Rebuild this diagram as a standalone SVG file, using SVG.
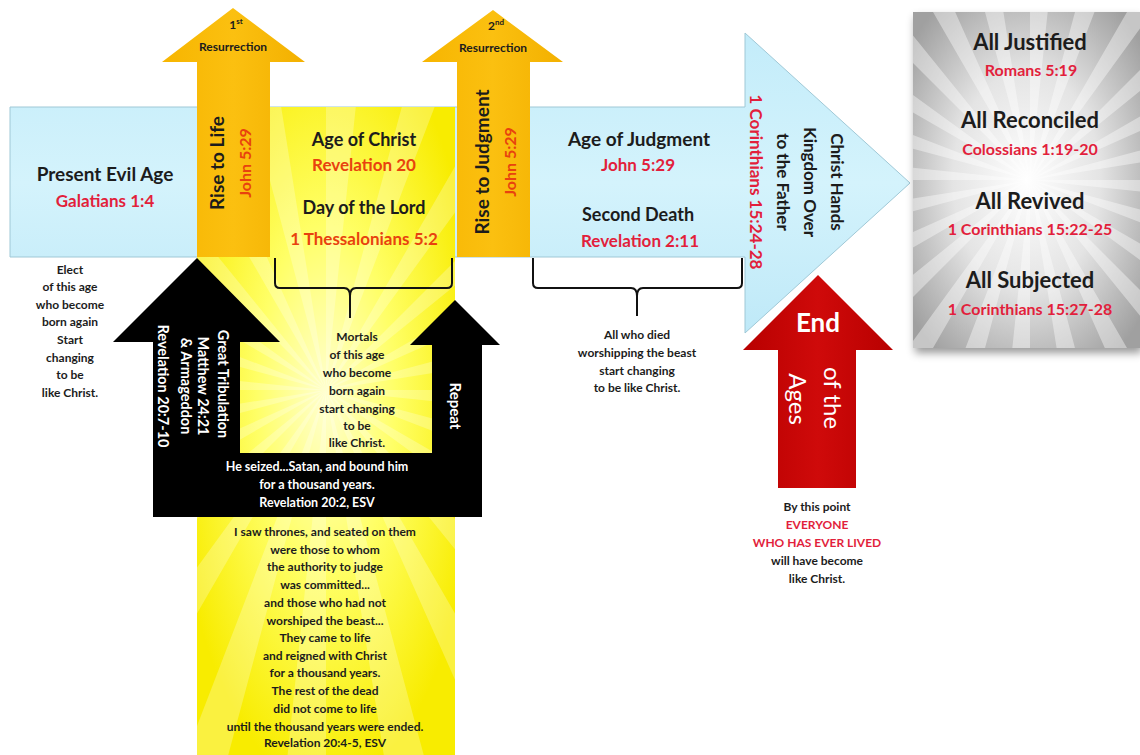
<svg xmlns="http://www.w3.org/2000/svg" xmlns:xlink="http://www.w3.org/1999/xlink" width="1140" height="755" viewBox="0 0 1140 755">
<style>
text{font-family:Lato,"Liberation Sans",sans-serif;font-weight:700;text-anchor:middle}
.dk{fill:#1c1c1c}
.rd{fill:#e21f3c}
.or{fill:#e8420e}
.wh{fill:#ffffff}
.sm{font-size:12px}
.brace{fill:none;stroke:#111;stroke-width:2}
</style>
<defs>
<linearGradient id="blueG" x1="0" y1="0" x2="0" y2="1">
<stop offset="0" stop-color="#c3ecfa"/>
<stop offset="0.5" stop-color="#d4f3fc"/>
<stop offset="1" stop-color="#bfe9f8"/>
</linearGradient>
<radialGradient id="yelG" cx="0.5" cy="0.45" r="0.6">
<stop offset="0" stop-color="#ffffd0"/>
<stop offset="0.45" stop-color="#ffff66"/>
<stop offset="1" stop-color="#f8ec00"/>
</radialGradient>
<radialGradient id="grayG" cx="0.5" cy="0.5" r="0.65">
<stop offset="0" stop-color="#ffffff"/>
<stop offset="0.5" stop-color="#e4e4e4"/>
<stop offset="1" stop-color="#a0a0a0"/>
</radialGradient>
<linearGradient id="orG" x1="0" y1="0" x2="1" y2="0">
<stop offset="0" stop-color="#f7b500"/>
<stop offset="0.5" stop-color="#fbc010"/>
<stop offset="1" stop-color="#f3b000"/>
</linearGradient>
<linearGradient id="redG" x1="0" y1="0" x2="1" y2="0">
<stop offset="0" stop-color="#b80000"/>
<stop offset="0.5" stop-color="#cf0a0a"/>
<stop offset="1" stop-color="#b80000"/>
</linearGradient>
<path id="rays" d="M0,0L300,0L298.4,31.4Z M0,0L289.8,77.6L280.1,107.5Z M0,0L259.8,150L242.7,176.3Z M0,0L212.1,212.1L188.8,233.1Z M0,0L150,259.8L122,274Z M0,0L77.6,289.8L46.9,296.3Z M0,0L0,300L-31.4,298.4Z M0,0L-77.6,289.8L-107.5,280.1Z M0,0L-150,259.8L-176.3,242.7Z M0,0L-212.1,212.1L-233.1,188.8Z M0,0L-259.8,150L-274,122Z M0,0L-289.8,77.6L-296.3,46.9Z M0,0L-300,0L-298.4,-31.4Z M0,0L-289.8,-77.6L-280.1,-107.5Z M0,0L-259.8,-150L-242.7,-176.3Z M0,0L-212.1,-212.1L-188.8,-233.1Z M0,0L-150,-259.8L-122,-274Z M0,0L-77.6,-289.8L-46.9,-296.3Z M0,0L0,-300L31.4,-298.4Z M0,0L77.6,-289.8L107.5,-280.1Z M0,0L150,-259.8L176.3,-242.7Z M0,0L212.1,-212.1L233.1,-188.8Z M0,0L259.8,-150L274,-122Z M0,0L289.8,-77.6L296.3,-46.9Z"/>
<clipPath id="clipGray"><rect x="913" y="12" width="227" height="336"/></clipPath>
<clipPath id="clipYel"><rect x="197" y="107" width="258" height="648"/></clipPath>
<filter id="shadow" x="-10%" y="-10%" width="130%" height="130%">
<feDropShadow dx="2" dy="5" stdDeviation="4" flood-color="#000" flood-opacity="0.4"/>
</filter>
</defs>
<rect width="1140" height="755" fill="#ffffff"/>

<g id="timeline-band">
<polygon points="10,107 745,107 745,33 910,183 745,333 745,257 10,257" fill="url(#blueG)" stroke="#9fc8d6" stroke-width="1"/>
</g>

<g id="age-of-christ-field">
<rect x="197" y="107" width="258" height="648" fill="url(#yelG)"/>
<g clip-path="url(#clipYel)">
<use xlink:href="#rays" transform="translate(326,390) scale(1.4)" fill="#ffffff" opacity="0.25"/>
</g>
</g>

<g id="black-arrows">
<polygon points="197,258 280,342 240,342 240,453 432,453 432,345 410,345 455,300 500,345 482,345 482,517 153,517 153,342 113,342" fill="#000000"/>
</g>

<g id="first-resurrection">
<polygon points="233,8 305,62 270,62 270,257 197,257 197,62 162,62" fill="url(#orG)"/>
</g>
<g id="second-resurrection">
<polygon points="493,10 563,62 530,62 530,257 457,257 457,62 422,62" fill="url(#orG)"/>
</g>

<g id="end-of-ages">
<polygon points="818,275 893,350 856,350 856,488 778,488 778,350 743,350" fill="url(#redG)"/>
</g>

<g id="final-panel">
<rect x="913" y="12" width="227" height="336" fill="url(#grayG)" filter="url(#shadow)"/>
<g clip-path="url(#clipGray)">
<use xlink:href="#rays" transform="translate(1030,180)" fill="#ffffff" opacity="0.4"/>
</g>
</g>

<g id="connectors">
<path class="brace" d="M275,258 V283 Q275,288 280,288 H344 Q350,288 350,296 V318 M452,258 V283 Q452,288 447,288 H356 Q350,288 350,296"/>
<path class="brace" d="M533,258 V283 Q533,288 538,288 H631 Q637,288 637,296 V316 M742,258 V283 Q742,288 737,288 H643 Q637,288 637,296"/>
</g>

<g id="present-evil-age">
<text x="105" y="181" class="dk" font-size="19">Present Evil Age</text>
<text x="105" y="207" class="rd" font-size="17">Galatians 1:4</text>
</g>

<g id="first-resurrection-text">
<text x="236" y="29" class="dk" font-size="12">1<tspan font-size="8" dy="-5">st</tspan></text>
<text x="233" y="51" class="dk" font-size="12">Resurrection</text>
<text transform="translate(224,163) rotate(-90)" class="dk" font-size="19">Rise to Life</text>
<text transform="translate(251,163) rotate(-90)" class="or" font-size="16">John 5:29</text>
</g>

<g id="age-of-christ">
<text x="364" y="146" class="dk" font-size="18">Age of Christ</text>
<text x="364" y="171" class="or" font-size="17">Revelation 20</text>
<text x="364" y="214" class="dk" font-size="18">Day of the Lord</text>
<text x="364" y="245" class="or" font-size="17">1 Thessalonians 5:2</text>
</g>

<g id="second-resurrection-text">
<text x="496" y="30" class="dk" font-size="12">2<tspan font-size="8" dy="-5">nd</tspan></text>
<text x="493" y="52" class="dk" font-size="12">Resurrection</text>
<text transform="translate(489,162) rotate(-90)" class="dk" font-size="19">Rise to Judgment</text>
<text transform="translate(516,162) rotate(-90)" class="or" font-size="16">John 5:29</text>
</g>

<g id="age-of-judgment">
<text x="639" y="146" class="dk" font-size="19">Age of Judgment</text>
<text x="638" y="171" class="rd" font-size="17">John 5:29</text>
<text x="638" y="221" class="dk" font-size="18">Second Death</text>
<text x="640" y="247" class="rd" font-size="17">Revelation 2:11</text>
</g>

<g id="kingdom-handover">
<text transform="translate(831,182) rotate(90)" class="dk" font-size="17">Christ Hands</text>
<text transform="translate(804,182) rotate(90)" class="dk" font-size="17">Kingdom Over</text>
<text transform="translate(777,182) rotate(90)" class="dk" font-size="17">to the Father</text>
<text transform="translate(750,182) rotate(90)" class="rd" font-size="17">1 Corinthians 15:24-28</text>
</g>

<g id="elect-note">
<text x="70" y="274" class="dk sm">Elect</text>
<text x="70" y="291" class="dk sm">of this age</text>
<text x="70" y="309" class="dk sm">who become</text>
<text x="70" y="326" class="dk sm">born again</text>
<text x="70" y="344" class="dk sm">Start</text>
<text x="70" y="362" class="dk sm">changing</text>
<text x="70" y="379" class="dk sm">to be</text>
<text x="70" y="397" class="dk sm">like Christ.</text>
</g>

<g id="tribulation-text">
<text transform="translate(218,384) rotate(90)" class="wh" font-size="14.5">Great Tribulation</text>
<text transform="translate(198,386) rotate(90)" class="wh" font-size="14.5">Matthew 24:21</text>
<text transform="translate(181,386) rotate(90)" class="wh" font-size="14.5">&amp; Armageddon</text>
<text transform="translate(158,386) rotate(90)" class="wh" font-size="14.5">Revelation 20:7-10</text>
<text transform="translate(450,406) rotate(90)" class="wh" font-size="15">Repeat</text>
</g>

<g id="mortals-note">
<text x="357" y="341" class="dk sm">Mortals</text>
<text x="357" y="359" class="dk sm">of this age</text>
<text x="357" y="377" class="dk sm">who become</text>
<text x="357" y="395" class="dk sm">born again</text>
<text x="357" y="413" class="dk sm">start changing</text>
<text x="357" y="430" class="dk sm">to be</text>
<text x="357" y="447" class="dk sm">like Christ.</text>
</g>

<g id="satan-bound">
<text x="317" y="471" class="wh" font-size="12.5">He seized...Satan, and bound him</text>
<text x="317" y="489" class="wh" font-size="12.5">for a thousand years.</text>
<text x="317" y="507" class="wh" font-size="12.5">Revelation 20:2, ESV</text>
</g>

<g id="thrones-quote">
<text x="325" y="536" class="dk sm">I saw thrones, and seated on them</text>
<text x="325" y="554" class="dk sm">were those to whom</text>
<text x="325" y="571" class="dk sm">the authority to judge</text>
<text x="325" y="589" class="dk sm">was committed...</text>
<text x="325" y="607" class="dk sm">and those who had not</text>
<text x="325" y="625" class="dk sm">worshiped the beast...</text>
<text x="325" y="642" class="dk sm">They came to life</text>
<text x="325" y="660" class="dk sm">and reigned with Christ</text>
<text x="325" y="677" class="dk sm">for a thousand years.</text>
<text x="325" y="695" class="dk sm">The rest of the dead</text>
<text x="325" y="713" class="dk sm">did not come to life</text>
<text x="325" y="731" class="dk sm">until the thousand years were ended.</text>
<text x="325" y="747" class="dk sm">Revelation 20:4-5, ESV</text>
</g>

<g id="beast-note">
<text x="637" y="339" class="dk sm">All who died</text>
<text x="637" y="357" class="dk sm">worshipping the beast</text>
<text x="637" y="375" class="dk sm">start changing</text>
<text x="637" y="392" class="dk sm">to be like Christ.</text>
</g>

<g id="end-text">
<text x="818" y="332" class="wh" font-size="26">End</text>
<text transform="translate(824,398) rotate(90)" class="wh" font-size="24" style="font-weight:400">of the</text>
<text transform="translate(789,399) rotate(90)" class="wh" font-size="24" style="font-weight:400">Ages</text>
</g>

<g id="everyone-note">
<text x="817" y="511" class="dk sm">By this point</text>
<text x="817" y="529" class="rd sm">EVERYONE</text>
<text x="817" y="547" class="rd sm">WHO HAS EVER LIVED</text>
<text x="817" y="565" class="dk sm">will have become</text>
<text x="817" y="583" class="dk sm">like Christ.</text>
</g>

<g id="final-panel-text">
<text x="1030" y="50" class="dk" font-size="22">All Justified</text>
<text x="1031" y="76" class="rd" font-size="16">Romans 5:19</text>
<text x="1030" y="128" class="dk" font-size="22">All Reconciled</text>
<text x="1030" y="155" class="rd" font-size="16">Colossians 1:19-20</text>
<text x="1030" y="209" class="dk" font-size="22">All Revived</text>
<text x="1030" y="235" class="rd" font-size="16">1 Corinthians 15:22-25</text>
<text x="1030" y="288" class="dk" font-size="22">All Subjected</text>
<text x="1030" y="315" class="rd" font-size="16">1 Corinthians 15:27-28</text>
</g>
</svg>
